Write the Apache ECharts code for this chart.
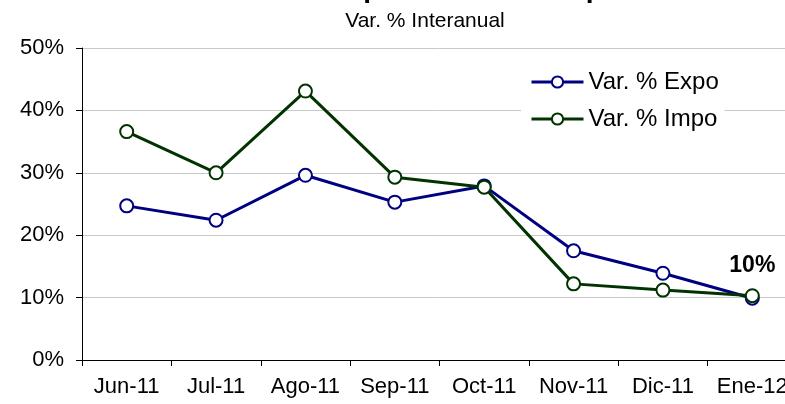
<!DOCTYPE html>
<html>
<head>
<meta charset="utf-8">
<script src="https://cdn.jsdelivr.net/npm/echarts@6/dist/echarts.min.js"></script>
<style>
  html, body { margin: 0; padding: 0; background: #ffffff; overflow: hidden; }
  #chart { width: 800px; height: 404px; }
</style>
</head>
<body>
<div id="chart"></div>
<script>
const categories = ['Jun-11', 'Jul-11', 'Ago-11', 'Sep-11', 'Oct-11', 'Nov-11', 'Dic-11', 'Ene-12'];
const expoValues = [24.7, 22.4, 29.6, 25.3, 27.9, 17.5, 13.9, 9.9];
const impoValues = [36.6, 30.0, 43.1, 29.3, 27.7, 12.2, 11.2, 10.3];
const seriesNames = ['Var. % Expo', 'Var. % Impo'];
const titleText = 'Exportaciones e Importaciones';
const subtitleText = 'Var. % Interanual';
const yMin = 0, yMax = 50, yStep = 10;

const FONT = "'Liberation Sans', Arial, sans-serif";
const EXPO_COLOR = '#000080';
const IMPO_COLOR = '#003300';

const chart = echarts.init(document.getElementById('chart'), null, { renderer: 'canvas', width: 800, height: 404 });

const expoData = expoValues.map((v, i) => {
  if (i === expoValues.length - 1) {
    return {
      value: v,
      label: {
        show: true,
        position: 'top',
        distance: 14,
        formatter: p => Math.round(p.value) + '%',
        fontFamily: FONT,
        fontSize: 23,
        fontWeight: 'bold',
        color: '#000'
      }
    };
  }
  return v;
});

const option = {
  backgroundColor: '#ffffff',
  animation: false,
  title: [
    {
      text: titleText,
      left: 329,
      top: -25,
      textStyle: { fontFamily: FONT, fontSize: 28, fontWeight: 'bold', color: '#000' },
      padding: 0
    },
    {
      text: subtitleText,
      left: 425,
      textAlign: 'center',
      top: 11,
      textStyle: { fontFamily: FONT, fontSize: 21, fontWeight: 'normal', color: '#000' },
      padding: 0
    }
  ],
  legend: {
    orient: 'vertical',
    left: 521,
    top: 63,
    padding: [7, 6, 7, 9],
    itemGap: 13,
    itemWidth: 52,
    itemHeight: 14,
    backgroundColor: '#ffffff',
    lineStyle: { width: 3 },
    textStyle: { fontFamily: FONT, fontSize: 24, color: '#000' },
    data: seriesNames.map(n => ({ name: n, lineStyle: { width: 3 } }))
  },
  grid: {
    left: 82,
    width: 715,
    top: 48,
    height: 312,
    containLabel: false
  },
  xAxis: {
    type: 'category',
    data: categories,
    boundaryGap: true,
    axisLine: { show: true, lineStyle: { color: '#000', width: 1 } },
    axisTick: { show: true, length: 6, inside: false, lineStyle: { color: '#000' } },
    axisLabel: { fontFamily: FONT, fontSize: 22, color: '#000', margin: 16, interval: 0 },
    splitLine: { show: false }
  },
  yAxis: {
    type: 'value',
    min: yMin,
    max: yMax,
    interval: yStep,
    axisLine: { show: true, lineStyle: { color: '#000', width: 1 } },
    axisTick: { show: true, length: 6, inside: false, lineStyle: { color: '#000' } },
    axisLabel: {
      fontFamily: FONT, fontSize: 22, color: '#000', margin: 18,
      formatter: v => v + '%'
    },
    splitLine: { show: true, lineStyle: { color: '#c8c8c8', width: 1 } }
  },
  series: [
    {
      name: seriesNames[0],
      type: 'line',
      data: expoData,
      symbol: 'circle',
      symbolSize: 13,
      showAllSymbol: true,
      lineStyle: { color: EXPO_COLOR, width: 3 },
      itemStyle: { color: '#ffffff', borderColor: EXPO_COLOR, borderWidth: 2 },
      z: 2
    },
    {
      name: seriesNames[1],
      type: 'line',
      data: impoValues,
      symbol: 'circle',
      symbolSize: 13,
      showAllSymbol: true,
      lineStyle: { color: IMPO_COLOR, width: 3 },
      itemStyle: { color: '#ffffff', borderColor: IMPO_COLOR, borderWidth: 2 },
      z: 3
    }
  ]
};

chart.setOption(option);
</script>
</body>
</html>
